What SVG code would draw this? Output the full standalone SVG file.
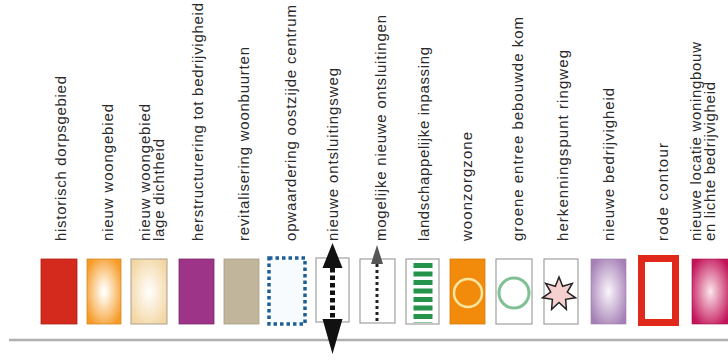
<svg xmlns="http://www.w3.org/2000/svg" width="728" height="360" viewBox="0 0 728 360">
<style>
text { font-family: "Liberation Sans", Arial, sans-serif; font-size: 15px; fill: #2a2a2a; }
.box { stroke: #a0a0a0; stroke-width: 1.2; fill: #fff; }
</style>
<defs>
<radialGradient id="gOrange" cx="50%" cy="50%" r="60%"><stop offset="0" stop-color="#fff"/><stop offset="0.15" stop-color="#fff6e8"/><stop offset="1" stop-color="#f59a25"/></radialGradient>
<radialGradient id="gBeige" cx="50%" cy="50%" r="60%"><stop offset="0" stop-color="#fff"/><stop offset="1" stop-color="#f3d6a2"/></radialGradient>
<radialGradient id="gLav" cx="50%" cy="50%" r="60%"><stop offset="0" stop-color="#fbf6fb"/><stop offset="1" stop-color="#a580b6"/></radialGradient>
<radialGradient id="gPink" cx="50%" cy="50%" r="60%"><stop offset="0" stop-color="#fbe6ea"/><stop offset="1" stop-color="#c3145a"/></radialGradient>
</defs>
<rect width="728" height="360" fill="#fff"/>

<g id="n1"><rect x="41" y="259" width="36" height="65" fill="#d42a1d" stroke="#aa2015" stroke-width="0.8"/><text transform="translate(66,241) rotate(-90)" textLength="165">historisch dorpsgebied</text></g>
<g id="n2"><rect x="87" y="259" width="34" height="65" fill="url(#gOrange)" stroke="#d88a2a" stroke-width="0.8"/><text transform="translate(112.5,241) rotate(-90)" textLength="137">nieuw woongebied</text></g>
<g id="n3"><rect x="131" y="259" width="36" height="65" fill="url(#gBeige)" stroke="#a9a08e" stroke-width="1"/><text transform="translate(150,241) rotate(-90)" textLength="137">nieuw woongebied</text><text transform="translate(164,241) rotate(-90)" textLength="102">lage dichtheid</text></g>
<g id="n4"><rect x="179" y="259" width="35" height="65" fill="#9d3487" stroke="#7c2a6c" stroke-width="0.8"/><text transform="translate(203,241) rotate(-90)" textLength="238">herstructurering tot bedrijvigheid</text></g>
<g id="n5"><rect x="224" y="259" width="35" height="65" fill="#c1b69c" stroke="#a89d86" stroke-width="0.8"/><text transform="translate(249,241) rotate(-90)" textLength="194">revitalisering woonbuurten</text></g>
<g id="n6"><rect x="269" y="258" width="36" height="66" fill="#f7fbfe" stroke="#1d5f96" stroke-width="3.5" stroke-dasharray="3.5 3"/><text transform="translate(296,241) rotate(-90)" textLength="236">opwaardering oostzijde centrum</text></g>
<g id="n7"><rect class="box" x="316" y="258" width="33" height="64"/><text transform="translate(338,241) rotate(-90)" textLength="173">nieuwe ontsluitingsweg</text></g>
<g id="n8"><rect class="box" x="360" y="259" width="35" height="64"/><text transform="translate(386,241) rotate(-90)" textLength="226">mogelijke nieuwe ontsluitingen</text></g>
<g id="n9"><rect class="box" x="406" y="259" width="33" height="65"/><line x1="423" y1="263" x2="423" y2="323" stroke="#25934a" stroke-width="19" stroke-dasharray="5 3.5"/><text transform="translate(429,241) rotate(-90)" textLength="194">landschappelijke inpassing</text></g>
<g id="n10"><rect x="450" y="259" width="35" height="65" fill="#f28b0b" stroke="#d77a08" stroke-width="0.8"/><circle cx="468" cy="293" r="14" fill="none" stroke="#fbe6a0" stroke-width="2.5"/><text transform="translate(471.5,241) rotate(-90)" textLength="109">woonzorgzone</text></g>
<g id="n11"><rect class="box" x="496" y="259" width="36" height="65"/><circle cx="514" cy="293" r="15" fill="none" stroke="#80c095" stroke-width="3"/><text transform="translate(523,241) rotate(-90)" textLength="224">groene entree bebouwde kom</text></g>
<g id="n12"><rect class="box" x="544" y="259" width="34" height="65"/><polygon points="559,277 562.69,286.34 572.29,283.4 567.29,292.11 575.57,297.78 565.65,299.3 566.38,309.32 559,302.5 551.62,309.32 552.35,299.3 542.43,297.78 550.71,292.11 545.71,283.4 555.31,286.34" fill="#f6cfcf" stroke="#222" stroke-width="1.5" stroke-linejoin="miter"/><text transform="translate(568,241) rotate(-90)" textLength="191">herkenningspunt ringweg</text></g>
<g id="n13"><rect x="591" y="259" width="35" height="65" fill="url(#gLav)" stroke="#9a7aa8" stroke-width="0.6"/><text transform="translate(614,241) rotate(-90)" textLength="153">nieuwe bedrijvigheid</text></g>
<g id="n14"><rect x="641.5" y="258.5" width="34" height="64" fill="#fff" stroke="#e0291b" stroke-width="7"/><text transform="translate(668,241) rotate(-90)" textLength="98">rode contour</text></g>
<g id="n15"><rect x="692" y="259" width="37" height="65" fill="url(#gPink)" stroke="#a01048" stroke-width="0.6"/><text transform="translate(701,241) rotate(-90)" textLength="199">nieuwe locatie woningbouw</text><text transform="translate(714.5,241) rotate(-90)" textLength="159">en lichte bedrijvigheid</text></g>

<g id="connectors">
<line x1="9" y1="340" x2="728" y2="340" stroke="#b0b0b0" stroke-width="2.5"/>
<line x1="332.5" y1="268" x2="332.5" y2="320" stroke="#111" stroke-width="5" stroke-dasharray="4.5 3"/>
<polygon points="332.5,243 342.5,268 322.5,268" fill="#111"/>
<polygon points="322.5,319 342.5,319 332.5,354" fill="#111"/>
<line x1="377" y1="264" x2="377" y2="322" stroke="#222" stroke-width="3" stroke-dasharray="3 3"/>
<polygon points="377,245 383,264 371,264" fill="#555"/>
</g>
</svg>
